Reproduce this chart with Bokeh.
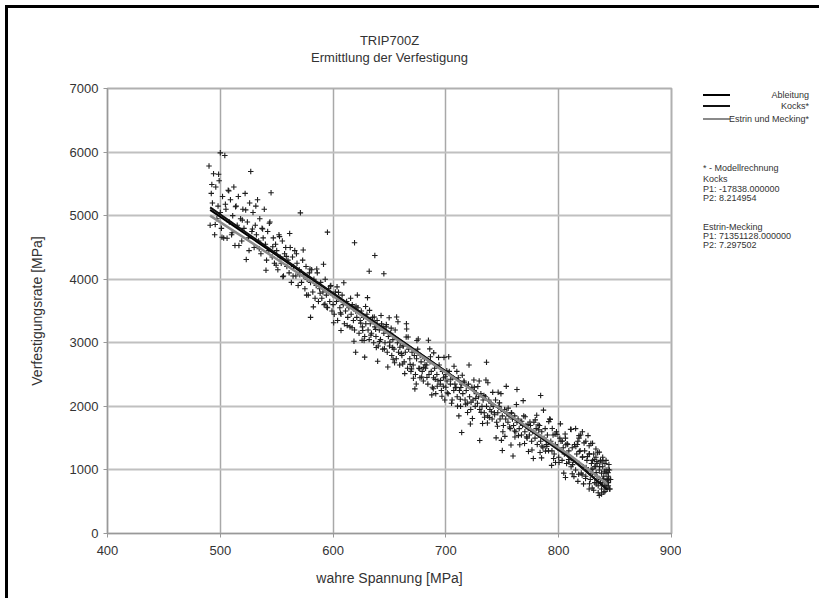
from bokeh.plotting import figure
from bokeh.models import Range1d, FixedTicker, Div, Title
from bokeh.layouts import row, column
from bokeh.embed import file_html
from bokeh.resources import INLINE

# ---- data ----
x_ticks = [400, 500, 600, 700, 800, 900]
y_ticks = [0, 1000, 2000, 3000, 4000, 5000, 6000, 7000]

stress = [
    490, 491, 492, 493, 494, 495, 496, 497, 498, 499,
    500, 500, 501, 502, 503, 504, 505, 506, 507, 508,
    509, 510, 511, 512, 513, 514, 515, 516, 518, 519,
    520, 521, 522, 523, 524, 525, 526, 527, 528, 529,
    530, 531, 532, 533, 534, 535, 536, 537, 538, 539,
    540, 541, 542, 543, 544, 545, 546, 547, 548, 549,
    550, 551, 552, 553, 554, 555, 556, 557, 558, 559,
    560, 561, 562, 563, 564, 565, 566, 567, 568, 569,
    570, 571, 572, 573, 574, 575, 576, 577, 578, 579,
    580, 580, 581, 582, 583, 584, 585, 586, 587, 588,
    589, 590, 591, 592, 593, 594, 595, 595, 596, 597,
    598, 599, 600, 600, 601, 602, 603, 604, 605, 606,
    607, 607, 608, 609, 610, 611, 612, 613, 614, 615,
    616, 617, 618, 619, 619, 620, 620, 621, 622, 623,
    624, 625, 626, 627, 628, 628, 629, 630, 631, 632,
    632, 633, 634, 635, 636, 637, 637, 638, 639, 640,
    641, 642, 643, 644, 645, 645, 646, 647, 648, 649,
    650, 651, 652, 653, 654, 655, 656, 657, 658, 659,
    660, 661, 662, 663, 664, 665, 666, 667, 668, 669,
    670, 671, 672, 673, 674, 675, 676, 677, 678, 679,
    680, 681, 682, 683, 684, 685, 686, 687, 688, 689,
    690, 691, 692, 693, 694, 695, 696, 697, 698, 699,
    700, 700, 701, 702, 703, 704, 705, 706, 707, 708,
    709, 710, 711, 712, 713, 714, 714, 715, 716, 717,
    718, 719, 720, 721, 722, 723, 724, 725, 726, 727,
    728, 729, 730, 730, 731, 732, 733, 734, 735, 736,
    736, 737, 738, 739, 740, 741, 742, 743, 744, 745,
    746, 747, 748, 749, 750, 750, 751, 752, 753, 754,
    755, 756, 757, 758, 759, 760, 761, 762, 763, 763,
    764, 765, 766, 767, 768, 769, 770, 771, 772, 773,
    774, 775, 776, 777, 778, 779, 780, 781, 782, 783,
    784, 784, 785, 786, 787, 788, 789, 790, 791, 792,
    793, 794, 795, 796, 797, 798, 799, 800, 801, 802,
    803, 804, 805, 806, 807, 808, 809, 810, 811, 811,
    812, 813, 814, 815, 816, 817, 818, 818, 819, 820,
    821, 822, 823, 824, 825, 826, 826, 827, 828, 829,
    830, 830, 831, 832, 832, 833, 834, 834, 835, 836,
    836, 837, 837, 838, 838, 839, 839, 840, 840, 841,
    841, 842, 842, 843, 843, 844, 844, 845, 845, 846,
]

rate = [
    5780, 4850, 5350, 5200, 5658, 4700, 5450, 4950, 5150, 5550,
    5988, 5050, 4800, 5300, 4650, 5946, 5100, 4645, 5400, 4900,
    5250, 4700, 5000, 5450, 4530, 5150, 4850, 5300, 4950, 4600,
    5100, 4800, 5350, 4310, 4900, 4650, 5200, 5694, 4750, 5050,
    4500, 4850, 4700, 5250, 4600, 4950, 4400, 4800, 4650, 5100,
    4550, 4300, 4750, 4450, 4900, 5359, 4350, 4650, 4250, 4550,
    4450, 4150, 4700, 4350, 4250, 4600, 4050, 4400, 4500, 4200,
    4300, 4100, 4500, 3950, 4350, 4200, 4450, 4050, 4250, 3900,
    4150, 5044, 3950, 4300, 4050, 3850, 4200, 4000, 3750, 4100,
    3400, 3950, 4150, 3800, 4000, 3700, 3900, 4100, 3650, 3850,
    3950, 3700, 3800, 3600, 4000, 3750, 4740, 3550, 3850, 3650,
    3900, 3500, 3750, 3600, 3450, 3800, 3650, 3350, 3700, 3550,
    3193, 3450, 3750, 3600, 3300, 3500, 3650, 3400, 3550, 3250,
    3450, 3600, 3350, 4573, 3200, 3500, 2852, 3400, 3550, 3150,
    3350, 3500, 3250, 3400, 2774, 3100, 3300, 3450, 3200, 3050,
    4126, 3300, 3150, 3400, 3000, 4373, 3250, 3100, 3350, 2950,
    3200, 3050, 3300, 2900, 4085, 3150, 3000, 3250, 2850, 3100,
    2950, 3150, 2800, 3050, 2900, 3200, 2750, 3000, 2850, 2650,
    3000, 2800, 2950, 2700, 2850, 3300, 2600, 2900, 2750, 2550,
    2850, 2650, 2800, 2500, 2750, 2900, 2600, 2450, 2700, 2550,
    2400, 2750, 2600, 2650, 2350, 2500, 2700, 2550, 2300, 2450,
    2600, 2200, 2500, 2400, 2650, 2350, 2250, 2550, 2450, 2100,
    2500, 2300, 2400, 2200, 2550, 2350, 2050, 2450, 2250, 2350,
    2300, 2150, 2450, 2250, 2000, 1589, 2350, 2200, 2400, 2100,
    2250, 2050, 2350, 2150, 1950, 2300, 2100, 2250, 2000, 2200,
    2050, 2150, 1463, 1950, 2200, 2000, 2100, 1900, 2150, 2695,
    2000, 1850, 2100, 1950, 2050, 1800, 2000, 1900, 2100, 1750,
    1900, 2000, 1800, 1950, 1306, 1850, 1700, 1950, 1800, 1900,
    1750, 1850, 1650, 1900, 1800, 1700, 1850, 1600, 2265, 1750,
    1800, 1650, 1750, 1550, 1700, 1850, 1600, 1700, 1500, 1650,
    1550, 1700, 1450, 1600, 1750, 1500, 1650, 1400, 1550, 1700,
    2170, 1450, 1600, 1350, 1500, 1650, 1400, 1550, 1300, 1800,
    1450, 1300, 1550, 1250, 1400, 1600, 1350, 1200, 1500, 1450,
    1150, 1350, 1250, 1500, 1100, 1400, 1300, 1200, 1636, 1050,
    1350, 1150, 1400, 1000, 1250, 1450, 1540, 1100, 1300, 950,
    1200, 1050, 1300, 900, 1150, 1540, 1000, 1250, 850, 1100,
    1150, 950, 1250, 800, 1050, 1200, 900, 1100, 750, 598,
    1000, 850, 1150, 700, 950, 1050, 800, 900, 650, 1100,
    750, 950, 1000, 700, 850, 800, 900, 700, 1000, 850,
]

stress_b = [
    492.5, 495.5, 498.5, 501.5, 504.5, 507.5, 510.5, 513.5, 516.5, 519.5,
    522.5, 525.5, 528.5, 531.5, 534.5, 537.5, 540.5, 543.5, 546.5, 549.5,
    552.5, 555.5, 558.5, 561.5, 564.5, 567.5, 570.5, 573.5, 576.5, 579.5,
    582.5, 585.5, 588.5, 591.5, 594.5, 597.5, 600.5, 603.5, 606.5, 609.5,
    612.5, 615.5, 618.5, 621.5, 624.5, 627.5, 630.5, 633.5, 636.5, 639.5,
    642.5, 645.5, 648.5, 651.5, 654.5, 657.5, 660.5, 663.5, 666.5, 669.5,
    672.5, 675.5, 678.5, 681.5, 684.5, 687.5, 690.5, 693.5, 696.5, 699.5,
    702.5, 705.5, 708.5, 711.5, 714.5, 717.5, 720.5, 723.5, 726.5, 729.5,
    732.5, 735.5, 738.5, 741.5, 744.5, 747.5, 750.5, 753.5, 756.5, 759.5,
    762.5, 765.5, 768.5, 771.5, 774.5, 777.5, 780.5, 783.5, 786.5, 789.5,
    792.5, 795.5, 798.5, 801.5, 804.5, 807.5, 810.5, 813.5, 816.5, 819.5,
    822.5, 825.5, 828.5, 831.5, 834.5, 837.5, 840.5, 843.5, 844.5, 845.5,
    815, 818, 821, 824, 827, 830, 833, 836, 839, 842,
    806, 812, 817, 822, 827, 831, 835, 838, 841, 844,
    620.3, 626.3, 632.3, 638.3, 644.3, 650.3, 656.3, 662.3, 668.3, 674.3,
    680.3, 686.3, 692.3, 698.3, 704.3, 710.3, 716.3, 722.3, 728.3, 734.3,
    740.3, 746.3, 752.3, 758.3, 764.3, 770.3, 776.3, 782.3, 788.3, 794.3,
    800.3, 806.3, 812.3, 818.3, 824.3, 830.3, 836.3, 842.3, 833.3, 827.3,
    625.7, 637.7, 649.7, 661.7, 673.7, 685.7, 697.7, 709.7, 721.7, 733.7,
    745.7, 757.7, 769.7, 781.7, 793.7, 805.7, 817.7, 829.7, 839.7, 843.7,
]

rate_b = [
    5490, 4860, 5650, 4660, 5180, 5390, 4730, 5140, 4530, 4930,
    5090, 4450, 4790, 5150, 4480, 4790, 4140, 4880, 4510, 4220,
    4670, 4040, 4360, 4720, 4050, 4400, 4070, 4460, 3750, 4160,
    3565, 4160, 3780, 4235, 3560, 3890, 3315, 3880, 3470, 3945,
    3270, 3700, 3025, 3750, 3310, 3035, 3710, 3120, 3405, 2710,
    3430, 2905, 2620, 3230, 2685, 3330, 2830, 2515, 3090, 2590,
    2275, 3060, 2460, 2655, 3040, 2180, 2425, 2770, 2160, 2465,
    2780, 2100, 2295, 1850, 2490, 2035, 2650, 1810, 2125, 2400,
    1730, 2415, 1825, 2220, 1505, 2055, 1600, 2315, 1675, 1220,
    2030, 1395, 2090, 1520, 1755, 1180, 1860, 1275, 1940, 1370,
    1795, 1180, 1560, 1725, 950, 1410, 1640, 895, 1400, 1550,
    1425, 1210, 1415, 1165, 1270, 1125, 980, 830, 1085, 700,
    1650, 1500, 1600, 1450, 1380, 1420, 1330, 1280, 1200, 1150,
    880, 940, 820, 780, 700, 680, 640, 620, 660, 750,
    3576, 3193, 3510, 2926, 3253, 3010, 3406, 2953, 2660, 3036,
    2613, 2780, 2316, 2770, 2426, 2003, 2379, 2066, 2312, 1828,
    1915, 2221, 1528, 1894, 1540, 1837, 1313, 1630, 1296, 1652,
    1118, 1395, 1084, 1291, 1038, 1015, 1052, 779, 779, 782,
    3038, 3211, 3394, 2667, 2351, 2904, 2317, 2550, 1723, 2172,
    1688, 1391, 1415, 1708, 1071, 1564, 931, 715, 860, 958,
]

stress_c = [
    641.2, 647.2, 653.2, 659.2, 665.2, 671.2, 677.2, 683.2, 689.2, 695.2,
    701.2, 707.2, 713.2, 719.2, 725.2, 731.2, 737.2, 743.2, 749.2, 755.2,
    761.2, 767.2, 773.2, 779.2, 785.2, 791.2, 797.2, 803.2, 809.2, 815.2,
    821.2, 827.2, 833.2, 839.2, 844.2, 823.8, 828.8, 833.8, 838.8, 843.8,
    664.8, 676.8, 688.8, 700.8, 712.8, 724.8, 736.8, 748.8, 760.8, 772.8,
    784.8, 796.8, 808.8, 820.8, 832.8, 652.8, 628.8, 616.8, 604.8, 592.8,
]

rate_c = [
    3019, 3286, 2742, 2929, 3216, 2442, 2799, 2455, 2842, 2408,
    2214, 2630, 2297, 1903, 2300, 1906, 2372, 1869, 1465, 1972,
    1518, 1765, 1291, 1788, 1374, 1760, 1117, 1453, 1120, 1369,
    1206, 1253, 960, 1147, 870, 866, 1008, 1131, 843, 1006,
    3090, 2594, 2277, 2559, 2112, 2415, 1738, 2200, 1613, 1716,
    1189, 1562, 1165, 922, 1057, 2926, 3570, 3237, 3793, 3610,
]

abl_x = [491, 592, 695, 810, 843]
abl_y = [5090, 3870, 2610, 1200, 690]
kocks_x = [491, 592, 695, 810, 843]
kocks_y = [5130, 3880, 2610, 1190, 700]
estrin_x = [491, 592, 695, 810, 843]
estrin_y = [5000, 3830, 2590, 1230, 780]

title_lines = ["TRIP700Z", "Ermittlung der Verfestigung"]
legend_names = ["Ableitung", "Kocks*", "Estrin und Mecking*"]
legend_colors = ["#000000", "#111111", "#8a8a8a"]
note_lines = [
    "* - Modellrechnung",
    "Kocks",
    "P1: -17838.000000",
    "P2: 8.214954",
    "Estrin-Mecking",
    "P1: 71351128.000000",
    "P2: 7.297502",
]

FONT = "Liberation Sans"
TXT = "#333333"

all_x, all_y = [], []
for xs, ys in ((stress, rate), (stress_b, rate_b), (stress_c, rate_c)):
    m = min(len(xs), len(ys))
    all_x += xs[:m]
    all_y += ys[:m]

p = figure(width=673, height=590,
           x_range=Range1d(400, 900), y_range=Range1d(0, 7000),
           output_backend="svg", toolbar_location=None,
           min_border_left=99, min_border_right=10,
           min_border_top=80, min_border_bottom=65)
p.background_fill_color = "#ffffff"
p.border_fill_color = "#ffffff"
p.outline_line_color = "#b0b0b0"
p.outline_line_width = 2

# title lines: spacer nearest the plot, then line 2, then line 1
p.title.text = ""
p.add_layout(Title(text=" ", text_font=FONT, text_font_size="8px", standoff=13), "above")
p.add_layout(Title(text=title_lines[1], align="center", offset=-16, standoff=0,
                   text_font=FONT, text_font_size="13px", text_font_style="normal",
                   text_color=TXT), "above")
p.add_layout(Title(text=title_lines[0], align="center", offset=-16, standoff=0,
                   text_font=FONT, text_font_size="13px", text_font_style="normal",
                   text_color=TXT), "above")

p.xaxis.ticker = FixedTicker(ticks=x_ticks)
p.yaxis.ticker = FixedTicker(ticks=y_ticks)
for ax in (p.xaxis, p.yaxis):
    ax.axis_line_color = "#999999"
    ax.axis_line_width = 1
    ax.major_tick_line_color = "#999999"
    ax.major_tick_out = 4
    ax.major_tick_in = 0
    ax.minor_tick_line_color = None
    ax.major_label_text_font = FONT
    ax.major_label_text_font_size = "13px"
    ax.major_label_text_color = TXT
    ax.axis_label_text_font = FONT
    ax.axis_label_text_font_size = "14px"
    ax.axis_label_text_font_style = "normal"
    ax.axis_label_text_color = TXT
p.xaxis.axis_label = "wahre Spannung [MPa]"
p.yaxis.axis_label = "Verfestigungsrate [MPa]"
p.xaxis.major_label_standoff = 8
p.yaxis.major_label_standoff = 5
p.xaxis.axis_label_standoff = 12
p.yaxis.axis_label_standoff = 22

p.xgrid.grid_line_color = "#a8a8a8"
p.xgrid.grid_line_width = 1.5
p.ygrid.grid_line_color = "#c0c0c0"
p.ygrid.grid_line_width = 2

p.scatter(all_x, all_y, marker="cross", size=5.5, line_color="#1e1e1e", line_width=1.1)
p.line(abl_x, abl_y, line_color=legend_colors[0], line_width=2)
p.line(kocks_x, kocks_y, line_color=legend_colors[1], line_width=2)
p.line(estrin_x, estrin_y, line_color=legend_colors[2], line_width=2.5)

# legend / notes panel (HTML)
legend_y = [87, 98, 111]
note_y = [160, 171, 181, 190, 219, 228, 237]
parts = []
for name, col, yy in zip(legend_names, legend_colors, legend_y):
    parts.append(f'<div style="position:absolute;left:22px;top:{yy - 1}px;width:27px;height:2px;background:{col}"></div>')
    parts.append(f'<div style="position:absolute;left:0px;width:128px;text-align:right;top:{yy - 5}px;line-height:10px;white-space:nowrap">{name}</div>')
for t, yy in zip(note_lines, note_y):
    parts.append(f'<div style="position:absolute;left:22px;top:{yy - 5}px;line-height:10px;white-space:nowrap">{t}</div>')
html = ('<div style="position:relative;width:134px;height:300px;'
        f'font-family:\'{FONT}\',sans-serif;font-size:9px;color:{TXT};">' + "".join(parts) + '</div>')
legend_div = Div(text=html, width=138, height=590, margin=0)

# black frame lines of the sheet (top and left only)
top_bar = Div(text="", width=814, height=3, margin=0, styles={"background-color": "#000000"})
left_bar = Div(text="", width=3, height=590, margin=0, styles={"background-color": "#000000"})

layout = column(top_bar, row(left_bar, p, legend_div))
layout.styles = {"margin-left": "5px", "margin-top": "5px"}

open("out.html", "w").write(file_html(layout, INLINE))
